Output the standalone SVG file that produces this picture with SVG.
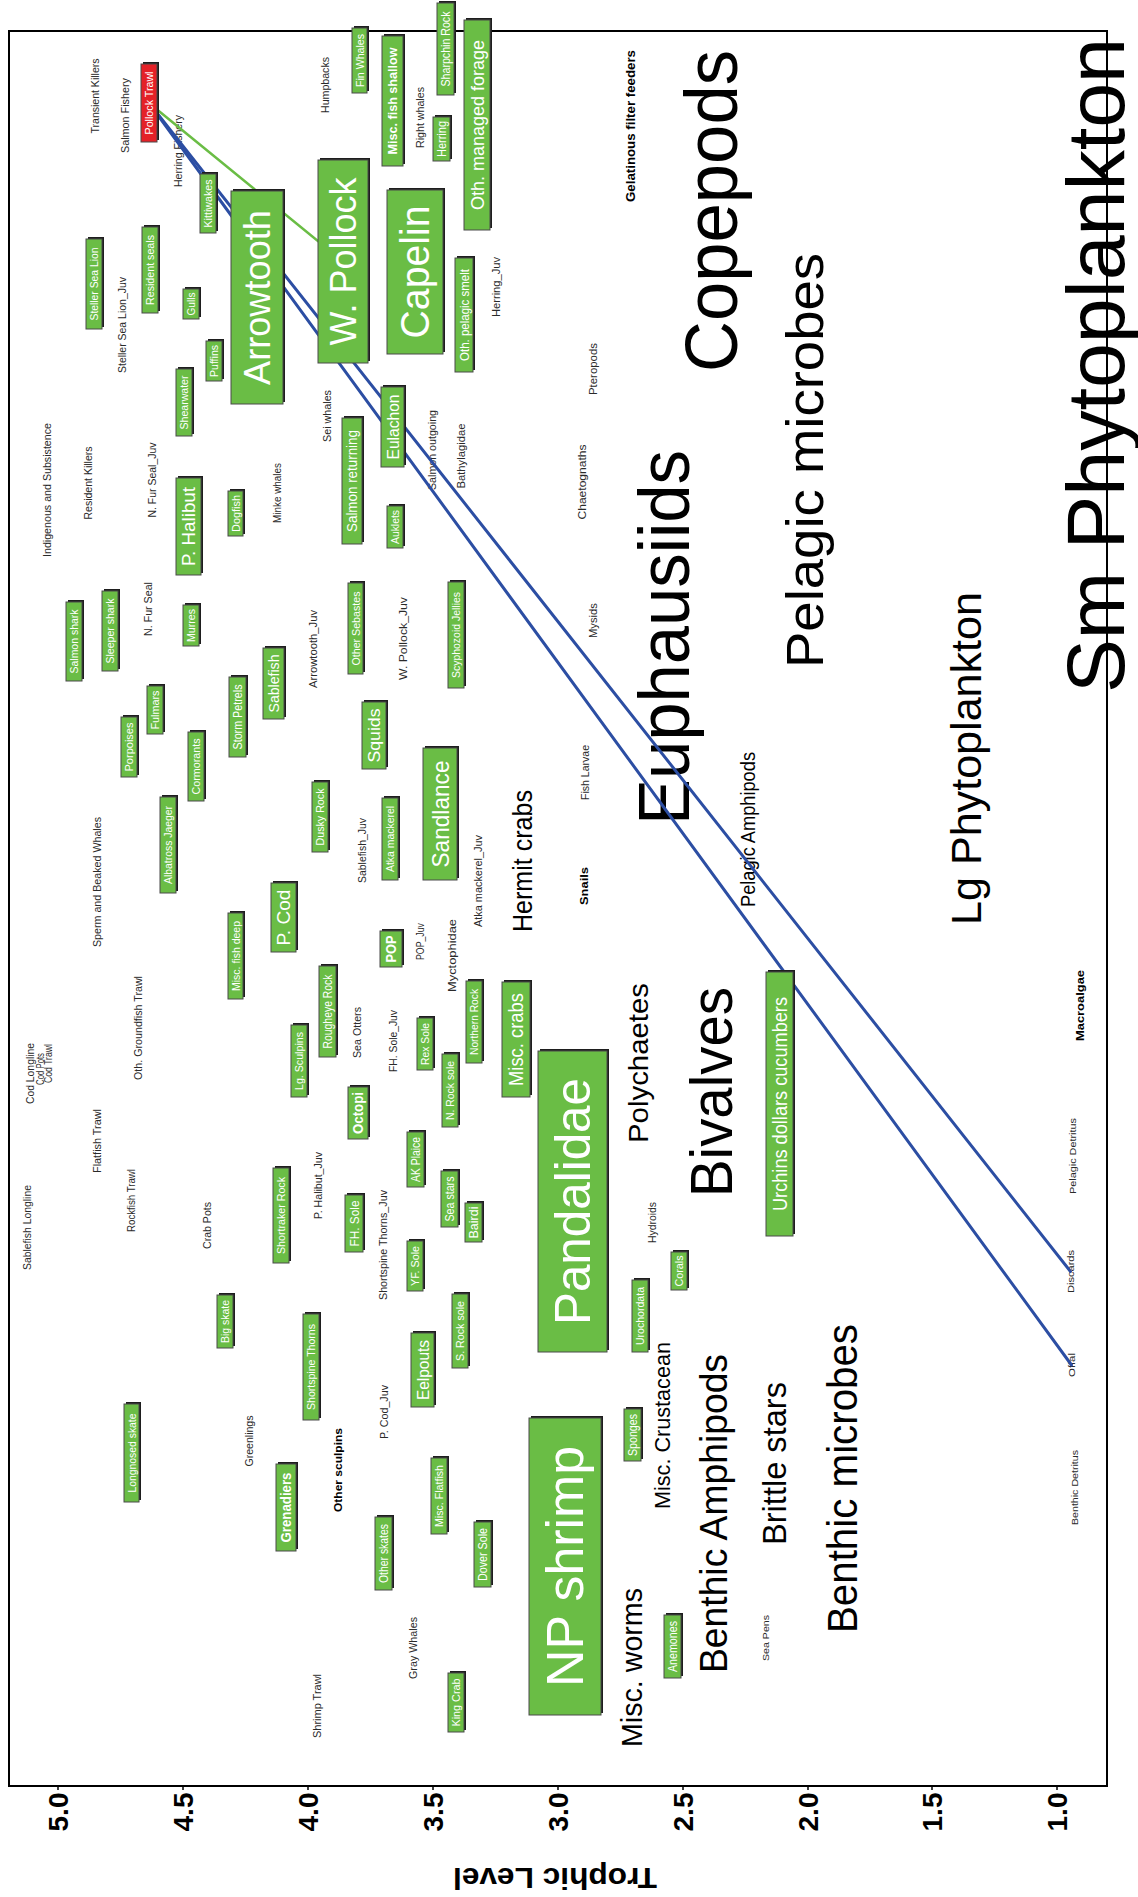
<svg xmlns="http://www.w3.org/2000/svg" width="1138" height="1897" viewBox="0 0 1138 1897">
<style>
text { font-family: "Liberation Sans", Arial, Helvetica, sans-serif; text-anchor: middle; dominant-baseline: central; }
.s { font-size: 10.5px; fill: #2a2a2a; }
.xs { font-size: 9.5px; fill: #2a2a2a; }
.bd { font-weight: bold; fill: #000; }
.big { fill: #000; }
.tick { font-size: 28px; font-weight: bold; fill: #000; }
.sh { fill: #1e1e1e; }
.bg { fill: #6abd45; stroke: #4a4a4a; stroke-width: 1; }
.red .bg { fill: #e42127; }
.nb text { fill: #fff; }
.link { fill: none; stroke-width: 3; stroke-linecap: round; }
.blue { stroke: #2c4ea3; }
.green { stroke: #6abd45; stroke-width: 2.5; }
</style>
<rect width="1138" height="1897" fill="#fff"/>

<!-- plot frame and trophic level axis -->
<g id="axis">
  <rect x="9" y="31" width="1098" height="1755" fill="none" stroke="#000" stroke-width="2"/>
  <g stroke="#000" stroke-width="1.5">
    <line x1="58" y1="1786" x2="58" y2="1790"/><line x1="183" y1="1786" x2="183" y2="1790"/>
    <line x1="308" y1="1786" x2="308" y2="1790"/><line x1="433" y1="1786" x2="433" y2="1790"/>
    <line x1="558" y1="1786" x2="558" y2="1790"/><line x1="683" y1="1786" x2="683" y2="1790"/>
    <line x1="808" y1="1786" x2="808" y2="1790"/><line x1="932" y1="1786" x2="932" y2="1790"/>
    <line x1="1057" y1="1786" x2="1057" y2="1790"/>
  </g>
  <text class="tick" transform="translate(58 1812) rotate(-90)">5.0</text>
  <text class="tick" transform="translate(183 1812) rotate(-90)">4.5</text>
  <text class="tick" transform="translate(308 1812) rotate(-90)">4.0</text>
  <text class="tick" transform="translate(433 1812) rotate(-90)">3.5</text>
  <text class="tick" transform="translate(558 1812) rotate(-90)">3.0</text>
  <text class="tick" transform="translate(683 1812) rotate(-90)">2.5</text>
  <text class="tick" transform="translate(808 1812) rotate(-90)">2.0</text>
  <text class="tick" transform="translate(932 1812) rotate(-90)">1.5</text>
  <text class="tick" transform="translate(1057 1812) rotate(-90)">1.0</text>
  <text class="bd" font-size="30" transform="translate(555 1878) rotate(180)" textLength="204" lengthAdjust="spacingAndGlyphs">Trophic Level</text>
</g>

<!-- groups without boxes: plain labels -->
<g id="labels">
  <g id="n-transient-killers"><text class="s" transform="translate(95 96) rotate(-90)" textLength="75" lengthAdjust="spacingAndGlyphs">Transient Killers</text></g>
  <g id="n-salmon-fishery"><text class="s" transform="translate(125 115.5) rotate(-90)" textLength="75" lengthAdjust="spacingAndGlyphs">Salmon Fishery</text></g>
  <g id="n-herring-fishery"><text class="s" transform="translate(178 151) rotate(-90)" textLength="72" lengthAdjust="spacingAndGlyphs">Herring Fishery</text></g>
  <g id="n-humpbacks"><text class="s" transform="translate(325 85) rotate(-90)" textLength="56" lengthAdjust="spacingAndGlyphs">Humpbacks</text></g>
  <g id="n-steller-juv"><text class="s" transform="translate(122 325) rotate(-90)" textLength="96" lengthAdjust="spacingAndGlyphs">Steller Sea Lion_Juv</text></g>
  <g id="n-sei-whales"><text class="s" transform="translate(327 416) rotate(-90)" textLength="52" lengthAdjust="spacingAndGlyphs">Sei whales</text></g>
  <g id="n-indigenous"><text class="s" transform="translate(47 490) rotate(-90)" textLength="134" lengthAdjust="spacingAndGlyphs">Indigenous and Subsistence</text></g>
  <g id="n-resident-killers"><text class="s" transform="translate(88 483) rotate(-90)" textLength="73" lengthAdjust="spacingAndGlyphs">Resident Killers</text></g>
  <g id="n-fur-seal-juv"><text class="s" transform="translate(152 480) rotate(-90)" textLength="75" lengthAdjust="spacingAndGlyphs">N. Fur Seal_Juv</text></g>
  <g id="n-minke"><text class="s" transform="translate(277 493) rotate(-90)" textLength="60" lengthAdjust="spacingAndGlyphs">Minke whales</text></g>
  <g id="n-fur-seal"><text class="s" transform="translate(147.5 609) rotate(-90)" textLength="54" lengthAdjust="spacingAndGlyphs">N. Fur Seal</text></g>
  <g id="n-arrowtooth-juv"><text class="s" transform="translate(312.5 649) rotate(-90)" textLength="78" lengthAdjust="spacingAndGlyphs">Arrowtooth_Juv</text></g>
  <g id="n-sperm-whales"><text class="s" transform="translate(97 882) rotate(-90)" textLength="130" lengthAdjust="spacingAndGlyphs">Sperm and Beaked Whales</text></g>
  <g id="n-sablefish-juv"><text class="s" transform="translate(361.5 850.5) rotate(-90)" textLength="65" lengthAdjust="spacingAndGlyphs">Sablefish_Juv</text></g>
  <g id="n-cod-longline"><text class="s" transform="translate(30 1073.5) rotate(-90)" textLength="61" lengthAdjust="spacingAndGlyphs">Cod Longline</text></g>
  <g id="n-cod-pots"><text class="s" transform="translate(39.5 1069) rotate(-90)" textLength="32" lengthAdjust="spacingAndGlyphs">Cod Pots</text></g>
  <g id="n-cod-trawl"><text class="s" transform="translate(48 1063.5) rotate(-90)" textLength="39" lengthAdjust="spacingAndGlyphs">Cod Trawl</text></g>
  <g id="n-oth-groundfish"><text class="s" transform="translate(137.5 1028) rotate(-90)" textLength="104" lengthAdjust="spacingAndGlyphs">Oth. Groundfish Trawl</text></g>
  <g id="n-flatfish-trawl"><text class="s" transform="translate(96.5 1141) rotate(-90)" textLength="64" lengthAdjust="spacingAndGlyphs">Flatfish Trawl</text></g>
  <g id="n-sablefish-longline"><text class="s" transform="translate(26.5 1227.5) rotate(-90)" textLength="85" lengthAdjust="spacingAndGlyphs">Sablefish Longline</text></g>
  <g id="n-rockfish-trawl"><text class="s" transform="translate(130.5 1200.5) rotate(-90)" textLength="63" lengthAdjust="spacingAndGlyphs">Rockfish Trawl</text></g>
  <g id="n-crab-pots"><text class="s" transform="translate(206.5 1225.5) rotate(-90)" textLength="47" lengthAdjust="spacingAndGlyphs">Crab Pots</text></g>
  <g id="n-sea-otters"><text class="s" transform="translate(356.5 1032.5) rotate(-90)" textLength="51" lengthAdjust="spacingAndGlyphs">Sea Otters</text></g>
  <g id="n-halibut-juv"><text class="s" transform="translate(317.5 1185.5) rotate(-90)" textLength="67" lengthAdjust="spacingAndGlyphs">P. Halibut_Juv</text></g>
  <g id="n-thorns-juv"><text class="s" transform="translate(383 1245) rotate(-90)" textLength="110" lengthAdjust="spacingAndGlyphs">Shortspine Thorns_Juv</text></g>
  <g id="n-cod-juv"><text class="s" transform="translate(384 1412) rotate(-90)" textLength="54" lengthAdjust="spacingAndGlyphs">P. Cod_Juv</text></g>
  <g id="n-greenlings"><text class="s" transform="translate(248.5 1441) rotate(-90)" textLength="51" lengthAdjust="spacingAndGlyphs">Greenlings</text></g>
  <g id="n-other-sculpins"><text class="bd" font-size="11.5" transform="translate(338 1470) rotate(-90)" textLength="84" lengthAdjust="spacingAndGlyphs">Other sculpins</text></g>
  <g id="n-shrimp-trawl"><text class="s" transform="translate(317 1706) rotate(-90)" textLength="64" lengthAdjust="spacingAndGlyphs">Shrimp Trawl</text></g>
  <g id="n-fh-sole-juv"><text class="s" transform="translate(392.5 1041) rotate(-90)" textLength="62" lengthAdjust="spacingAndGlyphs">FH. Sole_Juv</text></g>
  <g id="n-hydroids"><text class="s" transform="translate(651.5 1222.5) rotate(-90)" textLength="41" lengthAdjust="spacingAndGlyphs">Hydroids</text></g>
  <g id="n-pop-juv"><text class="s" transform="translate(420 941.5) rotate(-90)" textLength="37" lengthAdjust="spacingAndGlyphs">POP_Juv</text></g>
  <g id="n-myctophidae"><text class="s" transform="translate(452 955.5) rotate(-90)" textLength="73" lengthAdjust="spacingAndGlyphs">Myctophidae</text></g>
  <g id="n-atka-juv"><text class="s" transform="translate(477.5 881) rotate(-90)" textLength="92" lengthAdjust="spacingAndGlyphs">Atka mackerel_Juv</text></g>
  <g id="n-snails"><text class="bd" font-size="11.5" transform="translate(583.5 886) rotate(-90)" textLength="38" lengthAdjust="spacingAndGlyphs">Snails</text></g>
  <g id="n-fish-larvae"><text class="s" transform="translate(585 772.5) rotate(-90)" textLength="55" lengthAdjust="spacingAndGlyphs">Fish Larvae</text></g>
  <g id="n-mysids"><text class="s" transform="translate(592.5 620.5) rotate(-90)" textLength="35" lengthAdjust="spacingAndGlyphs">Mysids</text></g>
  <g id="n-pollock-juv"><text class="s" transform="translate(403 638.5) rotate(-90)" textLength="83" lengthAdjust="spacingAndGlyphs">W. Pollock_Juv</text></g>
  <g id="n-chaetognaths"><text class="s" transform="translate(582 482) rotate(-90)" textLength="75" lengthAdjust="spacingAndGlyphs">Chaetognaths</text></g>
  <g id="n-bathylagidae"><text class="s" transform="translate(461 456) rotate(-90)" textLength="65" lengthAdjust="spacingAndGlyphs">Bathylagidae</text></g>
  <g id="n-salmon-outgoing"><text class="s" transform="translate(432 450) rotate(-90)" textLength="80" lengthAdjust="spacingAndGlyphs">Salmon outgoing</text></g>
  <g id="n-right-whales"><text class="s" transform="translate(420 117.5) rotate(-90)" textLength="61" lengthAdjust="spacingAndGlyphs">Right whales</text></g>
  <g id="n-gelatinous"><text class="bd" font-size="12.5" transform="translate(631 126) rotate(-90)" textLength="152" lengthAdjust="spacingAndGlyphs">Gelatinous filter feeders</text></g>
  <g id="n-herring-juv"><text class="s" transform="translate(495.5 287) rotate(-90)" textLength="60" lengthAdjust="spacingAndGlyphs">Herring_Juv</text></g>
  <g id="n-pteropods"><text class="s" transform="translate(593 369) rotate(-90)" textLength="52" lengthAdjust="spacingAndGlyphs">Pteropods</text></g>
  <g id="n-macroalgae"><text class="bd" font-size="11.5" transform="translate(1080 1005.5) rotate(-90)" textLength="71" lengthAdjust="spacingAndGlyphs">Macroalgae</text></g>
  <g id="n-pelagic-detritus"><text class="xs" transform="translate(1072 1156) rotate(-90)" textLength="76" lengthAdjust="spacingAndGlyphs">Pelagic Detritus</text></g>
  <g id="n-discards"><text class="xs" transform="translate(1070.5 1271.5) rotate(-90)" textLength="43" lengthAdjust="spacingAndGlyphs">Discards</text></g>
  <g id="n-offal"><text class="xs" transform="translate(1071.5 1365) rotate(-90)" textLength="24" lengthAdjust="spacingAndGlyphs">Offal</text></g>
  <g id="n-gray-whales"><text class="s" transform="translate(412.5 1648) rotate(-90)" textLength="62" lengthAdjust="spacingAndGlyphs">Gray Whales</text></g>
  <g id="n-sea-pens"><text class="xs" transform="translate(765 1638) rotate(-90)" textLength="46" lengthAdjust="spacingAndGlyphs">Sea Pens</text></g>
  <g id="n-benthic-detritus"><text class="xs" transform="translate(1074.5 1487.5) rotate(-90)" textLength="75" lengthAdjust="spacingAndGlyphs">Benthic Detritus</text></g>

  <!-- large biomass groups -->
  <g id="n-sm-phyto"><text class="big" font-size="82" transform="translate(1095.5 365.5) rotate(-90)" textLength="655" lengthAdjust="spacingAndGlyphs">Sm Phytoplankton</text></g>
  <g id="n-copepods"><text class="big" font-size="74" transform="translate(711.5 211) rotate(-90)" textLength="322" lengthAdjust="spacingAndGlyphs">Copepods</text></g>
  <g id="n-pelagic-microbes"><text class="big" font-size="52" transform="translate(805 460.5) rotate(-90)" textLength="415" lengthAdjust="spacingAndGlyphs">Pelagic microbes</text></g>
  <g id="n-euphausiids"><text class="big" font-size="72" transform="translate(664 637.5) rotate(-90)" textLength="375" lengthAdjust="spacingAndGlyphs">Euphausiids</text></g>
  <g id="n-lg-phyto"><text class="big" font-size="42" transform="translate(966 758.5) rotate(-90)" textLength="333" lengthAdjust="spacingAndGlyphs">Lg Phytoplankton</text></g>
  <g id="n-pelagic-amphipods"><text class="big" font-size="20" transform="translate(748 829.5) rotate(-90)" textLength="155" lengthAdjust="spacingAndGlyphs">Pelagic Amphipods</text></g>
  <g id="n-hermit-crabs"><text class="big" font-size="27" transform="translate(523 861) rotate(-90)" textLength="142" lengthAdjust="spacingAndGlyphs">Hermit crabs</text></g>
  <g id="n-polychaetes"><text class="big" font-size="28" transform="translate(638 1063) rotate(-90)" textLength="160" lengthAdjust="spacingAndGlyphs">Polychaetes</text></g>
  <g id="n-bivalves"><text class="big" font-size="60" transform="translate(711.5 1092) rotate(-90)" textLength="210" lengthAdjust="spacingAndGlyphs">Bivalves</text></g>
  <g id="n-misc-worms"><text class="big" font-size="29" transform="translate(632 1667.5) rotate(-90)" textLength="159" lengthAdjust="spacingAndGlyphs">Misc. worms</text></g>
  <g id="n-misc-crustacean"><text class="big" font-size="22" transform="translate(662 1425.5) rotate(-90)" textLength="167" lengthAdjust="spacingAndGlyphs">Misc. Crustacean</text></g>
  <g id="n-benthic-amphipods"><text class="big" font-size="38" transform="translate(713.5 1513.5) rotate(-90)" textLength="319" lengthAdjust="spacingAndGlyphs">Benthic Amphipods</text></g>
  <g id="n-brittle-stars"><text class="big" font-size="34" transform="translate(773.5 1463.5) rotate(-90)" textLength="163" lengthAdjust="spacingAndGlyphs">Brittle stars</text></g>
  <g id="n-benthic-microbes"><text class="big" font-size="43" transform="translate(842 1478.5) rotate(-90)" textLength="309" lengthAdjust="spacingAndGlyphs">Benthic microbes</text></g>
</g>

<!-- flows out of the pollock trawl fishery -->
<g id="connectors">
  <line class="link green" x1="149" y1="103" x2="343" y2="261.5"/>
  <line class="link blue" x1="149" y1="103" x2="1070.5" y2="1271.5"/>
  <line class="link blue" x1="149" y1="103" x2="1071.5" y2="1365"/>
</g>

<!-- boxed groups -->
<g id="boxes" class="nb">
  <g id="n-fin-whales"><rect class="sh" x="354" y="26" width="15" height="65"/><rect class="bg" x="352" y="28" width="15" height="65"/><text font-size="10.8" transform="translate(359.5 60.5) rotate(-90)" textLength="53" lengthAdjust="spacingAndGlyphs">Fin Whales</text></g>
  <g id="n-pollock-trawl" class="red"><rect class="sh" x="143" y="62" width="16" height="78"/><rect class="bg" x="141" y="64" width="16" height="78"/><text font-size="11.5" transform="translate(149 103) rotate(-90)" textLength="63" lengthAdjust="spacingAndGlyphs">Pollock Trawl</text></g>
  <g id="n-kittiwakes"><rect class="sh" x="202" y="172" width="16" height="59"/><rect class="bg" x="200" y="174" width="16" height="59"/><text font-size="11.5" transform="translate(208 203.5) rotate(-90)" textLength="48" lengthAdjust="spacingAndGlyphs">Kittiwakes</text></g>
  <g id="n-arrowtooth"><rect class="sh" x="233" y="189" width="52" height="213"/><rect class="bg" x="231" y="191" width="52" height="213"/><text font-size="37.5" transform="translate(257 297.5) rotate(-90)" textLength="175" lengthAdjust="spacingAndGlyphs">Arrowtooth</text></g>
  <g id="n-w-pollock"><rect class="sh" x="320" y="158" width="50" height="203"/><rect class="bg" x="318" y="160" width="50" height="203"/><text font-size="36" transform="translate(343 261.5) rotate(-90)" textLength="168" lengthAdjust="spacingAndGlyphs">W. Pollock</text></g>
  <g id="n-steller"><rect class="sh" x="88" y="237" width="16" height="90"/><rect class="bg" x="86" y="239" width="16" height="90"/><text font-size="11.5" transform="translate(94 284) rotate(-90)" textLength="73" lengthAdjust="spacingAndGlyphs">Steller Sea Lion</text></g>
  <g id="n-resident-seals"><rect class="sh" x="144" y="225" width="16" height="86"/><rect class="bg" x="142" y="227" width="16" height="86"/><text font-size="11.5" transform="translate(150 270) rotate(-90)" textLength="70" lengthAdjust="spacingAndGlyphs">Resident seals</text></g>
  <g id="n-gulls"><rect class="sh" x="185" y="287" width="16" height="30"/><rect class="bg" x="183" y="289" width="16" height="30"/><text font-size="11.5" transform="translate(191 304) rotate(-90)" textLength="23" lengthAdjust="spacingAndGlyphs">Gulls</text></g>
  <g id="n-puffins"><rect class="sh" x="208" y="339" width="16" height="40"/><rect class="bg" x="206" y="341" width="16" height="40"/><text font-size="11.5" transform="translate(214 361) rotate(-90)" textLength="32" lengthAdjust="spacingAndGlyphs">Puffins</text></g>
  <g id="n-shearwater"><rect class="sh" x="178" y="367" width="16" height="67"/><rect class="bg" x="176" y="369" width="16" height="67"/><text font-size="11.5" transform="translate(184 402.5) rotate(-90)" textLength="54" lengthAdjust="spacingAndGlyphs">Shearwater</text></g>
  <g id="n-salmon-returning"><rect class="sh" x="344" y="416" width="20" height="126"/><rect class="bg" x="342" y="418" width="20" height="126"/><text font-size="14" transform="translate(352 481) rotate(-90)" textLength="102" lengthAdjust="spacingAndGlyphs">Salmon returning</text></g>
  <g id="n-p-halibut"><rect class="sh" x="178" y="476" width="25" height="97"/><rect class="bg" x="176" y="478" width="25" height="97"/><text font-size="18" transform="translate(188.5 526.5) rotate(-90)" textLength="79" lengthAdjust="spacingAndGlyphs">P. Halibut</text></g>
  <g id="n-dogfish"><rect class="sh" x="230" y="489" width="15" height="45"/><rect class="bg" x="228" y="491" width="15" height="45"/><text font-size="10.8" transform="translate(235.5 513.5) rotate(-90)" textLength="37" lengthAdjust="spacingAndGlyphs">Dogfish</text></g>
  <g id="n-salmon-shark"><rect class="sh" x="68" y="600" width="16" height="79"/><rect class="bg" x="66" y="602" width="16" height="79"/><text font-size="11.5" transform="translate(74 641.5) rotate(-90)" textLength="64" lengthAdjust="spacingAndGlyphs">Salmon shark</text></g>
  <g id="n-sleeper-shark"><rect class="sh" x="104" y="589" width="16" height="80"/><rect class="bg" x="102" y="591" width="16" height="80"/><text font-size="11.5" transform="translate(110 631) rotate(-90)" textLength="65" lengthAdjust="spacingAndGlyphs">Sleeper shark</text></g>
  <g id="n-murres"><rect class="sh" x="185" y="603" width="16" height="41"/><rect class="bg" x="183" y="605" width="16" height="41"/><text font-size="11.5" transform="translate(191 625.5) rotate(-90)" textLength="33" lengthAdjust="spacingAndGlyphs">Murres</text></g>
  <g id="n-other-sebastes"><rect class="sh" x="350" y="581" width="15" height="91"/><rect class="bg" x="348" y="583" width="15" height="91"/><text font-size="10.8" transform="translate(355.5 628.5) rotate(-90)" textLength="74" lengthAdjust="spacingAndGlyphs">Other Sebastes</text></g>
  <g id="n-porpoises"><rect class="sh" x="123" y="715" width="16" height="60"/><rect class="bg" x="121" y="717" width="16" height="60"/><text font-size="11.5" transform="translate(129 747) rotate(-90)" textLength="49" lengthAdjust="spacingAndGlyphs">Porpoises</text></g>
  <g id="n-fulmars"><rect class="sh" x="149" y="684" width="16" height="48"/><rect class="bg" x="147" y="686" width="16" height="48"/><text font-size="11.5" transform="translate(155 710) rotate(-90)" textLength="39" lengthAdjust="spacingAndGlyphs">Fulmars</text></g>
  <g id="n-cormorants"><rect class="sh" x="190" y="730" width="16" height="69"/><rect class="bg" x="188" y="732" width="16" height="69"/><text font-size="11.5" transform="translate(196 766.5) rotate(-90)" textLength="56" lengthAdjust="spacingAndGlyphs">Cormorants</text></g>
  <g id="n-storm-petrels"><rect class="sh" x="231" y="675" width="17" height="80"/><rect class="bg" x="229" y="677" width="17" height="80"/><text font-size="12" transform="translate(237.5 717) rotate(-90)" textLength="65" lengthAdjust="spacingAndGlyphs">Storm Petrels</text></g>
  <g id="n-sablefish"><rect class="sh" x="265" y="646" width="21" height="71"/><rect class="bg" x="263" y="648" width="21" height="71"/><text font-size="15" transform="translate(273.5 683.5) rotate(-90)" textLength="58" lengthAdjust="spacingAndGlyphs">Sablefish</text></g>
  <g id="n-squids"><rect class="sh" x="364" y="700" width="24" height="67"/><rect class="bg" x="362" y="702" width="24" height="67"/><text font-size="17" transform="translate(374 735.5) rotate(-90)" textLength="54" lengthAdjust="spacingAndGlyphs">Squids</text></g>
  <g id="n-albatross"><rect class="sh" x="162" y="795" width="16" height="96"/><rect class="bg" x="160" y="797" width="16" height="96"/><text font-size="11.5" transform="translate(168 845) rotate(-90)" textLength="78" lengthAdjust="spacingAndGlyphs">Albatross Jaeger</text></g>
  <g id="n-dusky-rock"><rect class="sh" x="314" y="780" width="16" height="70"/><rect class="bg" x="312" y="782" width="16" height="70"/><text font-size="11.5" transform="translate(320 817) rotate(-90)" textLength="57" lengthAdjust="spacingAndGlyphs">Dusky Rock</text></g>
  <g id="n-p-cod"><rect class="sh" x="273" y="881" width="25" height="69"/><rect class="bg" x="271" y="883" width="25" height="69"/><text font-size="18" transform="translate(283.5 917.5) rotate(-90)" textLength="56" lengthAdjust="spacingAndGlyphs">P. Cod</text></g>
  <g id="n-misc-fish-deep"><rect class="sh" x="230" y="911" width="15" height="86"/><rect class="bg" x="228" y="913" width="15" height="86"/><text font-size="10.8" transform="translate(235.5 956) rotate(-90)" textLength="70" lengthAdjust="spacingAndGlyphs">Misc. fish deep</text></g>
  <g id="n-lg-sculpins"><rect class="sh" x="293" y="1023" width="16" height="72"/><rect class="bg" x="291" y="1025" width="16" height="72"/><text font-size="11.5" transform="translate(299 1061) rotate(-90)" textLength="58" lengthAdjust="spacingAndGlyphs">Lg. Sculpins</text></g>
  <g id="n-rougheye"><rect class="sh" x="321" y="964" width="17" height="91"/><rect class="bg" x="319" y="966" width="17" height="91"/><text font-size="12" transform="translate(327.5 1011.5) rotate(-90)" textLength="74" lengthAdjust="spacingAndGlyphs">Rougheye Rock</text></g>
  <g id="n-octopi"><rect class="sh" x="350" y="1085" width="20" height="52"/><rect class="bg" x="348" y="1087" width="20" height="52"/><text font-size="14" font-weight="bold" transform="translate(358 1113) rotate(-90)" textLength="42" lengthAdjust="spacingAndGlyphs">Octopi</text></g>
  <g id="n-shortraker"><rect class="sh" x="275" y="1166" width="16" height="95"/><rect class="bg" x="273" y="1168" width="16" height="95"/><text font-size="11.5" transform="translate(281 1215.5) rotate(-90)" textLength="77" lengthAdjust="spacingAndGlyphs">Shortraker Rock</text></g>
  <g id="n-fh-sole"><rect class="sh" x="347" y="1193" width="18" height="57"/><rect class="bg" x="345" y="1195" width="18" height="57"/><text font-size="13" transform="translate(354 1223.5) rotate(-90)" textLength="46" lengthAdjust="spacingAndGlyphs">FH. Sole</text></g>
  <g id="n-big-skate"><rect class="sh" x="219" y="1293" width="16" height="53"/><rect class="bg" x="217" y="1295" width="16" height="53"/><text font-size="11.5" transform="translate(225 1321.5) rotate(-90)" textLength="43" lengthAdjust="spacingAndGlyphs">Big skate</text></g>
  <g id="n-shortspine"><rect class="sh" x="305" y="1312" width="16" height="106"/><rect class="bg" x="303" y="1314" width="16" height="106"/><text font-size="11.5" transform="translate(311 1367) rotate(-90)" textLength="86" lengthAdjust="spacingAndGlyphs">Shortspine Thorns</text></g>
  <g id="n-longnosed-skate"><rect class="sh" x="126" y="1402" width="15" height="98"/><rect class="bg" x="124" y="1404" width="15" height="98"/><text font-size="10.8" transform="translate(131.5 1453) rotate(-90)" textLength="79" lengthAdjust="spacingAndGlyphs">Longnosed skate</text></g>
  <g id="n-grenadiers"><rect class="sh" x="278" y="1462" width="20" height="87"/><rect class="bg" x="276" y="1464" width="20" height="87"/><text font-size="14" font-weight="bold" transform="translate(286 1507.5) rotate(-90)" textLength="70" lengthAdjust="spacingAndGlyphs">Grenadiers</text></g>
  <g id="n-other-skates"><rect class="sh" x="377" y="1515" width="17" height="73"/><rect class="bg" x="375" y="1517" width="17" height="73"/><text font-size="12" transform="translate(383.5 1553.5) rotate(-90)" textLength="59" lengthAdjust="spacingAndGlyphs">Other skates</text></g>
  <g id="n-rex-sole"><rect class="sh" x="419" y="1016" width="16" height="52"/><rect class="bg" x="417" y="1018" width="16" height="52"/><text font-size="11.5" transform="translate(425 1044) rotate(-90)" textLength="42" lengthAdjust="spacingAndGlyphs">Rex Sole</text></g>
  <g id="n-northern-rock"><rect class="sh" x="468" y="979" width="16" height="82"/><rect class="bg" x="466" y="981" width="16" height="82"/><text font-size="11.5" transform="translate(474 1022) rotate(-90)" textLength="66" lengthAdjust="spacingAndGlyphs">Northern Rock</text></g>
  <g id="n-misc-crabs"><rect class="sh" x="504" y="980" width="28" height="115"/><rect class="bg" x="502" y="982" width="28" height="115"/><text font-size="20" transform="translate(516 1039.5) rotate(-90)" textLength="93" lengthAdjust="spacingAndGlyphs">Misc. crabs</text></g>
  <g id="n-n-rock-sole"><rect class="sh" x="444" y="1052" width="16" height="73"/><rect class="bg" x="442" y="1054" width="16" height="73"/><text font-size="11.5" transform="translate(450 1090.5) rotate(-90)" textLength="59" lengthAdjust="spacingAndGlyphs">N. Rock sole</text></g>
  <g id="n-ak-plaice"><rect class="sh" x="409" y="1130" width="17" height="55"/><rect class="bg" x="407" y="1132" width="17" height="55"/><text font-size="12" transform="translate(415.5 1159.5) rotate(-90)" textLength="45" lengthAdjust="spacingAndGlyphs">AK Plaice</text></g>
  <g id="n-sea-stars"><rect class="sh" x="443" y="1169" width="17" height="56"/><rect class="bg" x="441" y="1171" width="17" height="56"/><text font-size="12" transform="translate(449.5 1199) rotate(-90)" textLength="45" lengthAdjust="spacingAndGlyphs">Sea stars</text></g>
  <g id="n-bairdi"><rect class="sh" x="467" y="1201" width="17" height="39"/><rect class="bg" x="465" y="1203" width="17" height="39"/><text font-size="12" transform="translate(473.5 1222.5) rotate(-90)" textLength="32" lengthAdjust="spacingAndGlyphs">Bairdi</text></g>
  <g id="n-yf-sole"><rect class="sh" x="409" y="1239" width="16" height="50"/><rect class="bg" x="407" y="1241" width="16" height="50"/><text font-size="11.5" transform="translate(415 1266) rotate(-90)" textLength="40" lengthAdjust="spacingAndGlyphs">YF. Sole</text></g>
  <g id="n-s-rock-sole"><rect class="sh" x="454" y="1292" width="16" height="74"/><rect class="bg" x="452" y="1294" width="16" height="74"/><text font-size="11.5" transform="translate(460 1331) rotate(-90)" textLength="60" lengthAdjust="spacingAndGlyphs">S. Rock sole</text></g>
  <g id="n-eelpouts"><rect class="sh" x="413" y="1331" width="23" height="74"/><rect class="bg" x="411" y="1333" width="23" height="74"/><text font-size="16.5" transform="translate(422.5 1370) rotate(-90)" textLength="60" lengthAdjust="spacingAndGlyphs">Eelpouts</text></g>
  <g id="n-pandalidae"><rect class="sh" x="540" y="1049" width="69" height="301"/><rect class="bg" x="538" y="1051" width="69" height="301"/><text font-size="50" transform="translate(572.5 1201.5) rotate(-90)" textLength="247" lengthAdjust="spacingAndGlyphs">Pandalidae</text></g>
  <g id="n-corals"><rect class="sh" x="673" y="1250" width="16" height="38"/><rect class="bg" x="671" y="1252" width="16" height="38"/><text font-size="11.5" transform="translate(679 1271) rotate(-90)" textLength="31" lengthAdjust="spacingAndGlyphs">Corals</text></g>
  <g id="n-urochordata"><rect class="sh" x="634" y="1278" width="16" height="72"/><rect class="bg" x="632" y="1280" width="16" height="72"/><text font-size="11.5" transform="translate(640 1316) rotate(-90)" textLength="58" lengthAdjust="spacingAndGlyphs">Urochordata</text></g>
  <g id="n-pop"><rect class="sh" x="382" y="929" width="22" height="36"/><rect class="bg" x="380" y="931" width="22" height="36"/><text font-size="14" font-weight="bold" transform="translate(391 949) rotate(-90)" textLength="27" lengthAdjust="spacingAndGlyphs">POP</text></g>
  <g id="n-sandlance"><rect class="sh" x="425" y="746" width="34" height="132"/><rect class="bg" x="423" y="748" width="34" height="132"/><text font-size="24.5" transform="translate(440 814) rotate(-90)" textLength="107" lengthAdjust="spacingAndGlyphs">Sandlance</text></g>
  <g id="n-atka"><rect class="sh" x="384" y="796" width="16" height="82"/><rect class="bg" x="382" y="798" width="16" height="82"/><text font-size="11.5" transform="translate(390 839) rotate(-90)" textLength="66" lengthAdjust="spacingAndGlyphs">Atka mackerel</text></g>
  <g id="n-scyphozoid"><rect class="sh" x="450" y="580" width="16" height="106"/><rect class="bg" x="448" y="582" width="16" height="106"/><text font-size="11.5" transform="translate(456 635) rotate(-90)" textLength="86" lengthAdjust="spacingAndGlyphs">Scyphozoid Jellies</text></g>
  <g id="n-auklets"><rect class="sh" x="389" y="504" width="16" height="42"/><rect class="bg" x="387" y="506" width="16" height="42"/><text font-size="11.5" transform="translate(395 527) rotate(-90)" textLength="34" lengthAdjust="spacingAndGlyphs">Auklets</text></g>
  <g id="n-eulachon"><rect class="sh" x="383" y="385" width="23" height="80"/><rect class="bg" x="381" y="387" width="23" height="80"/><text font-size="16.5" transform="translate(392.5 427) rotate(-90)" textLength="65" lengthAdjust="spacingAndGlyphs">Eulachon</text></g>
  <g id="n-misc-fish-shallow"><rect class="sh" x="384" y="34" width="21" height="130"/><rect class="bg" x="382" y="36" width="21" height="130"/><text font-size="13" font-weight="bold" transform="translate(392.5 101) rotate(-90)" textLength="107" lengthAdjust="spacingAndGlyphs">Misc. fish shallow</text></g>
  <g id="n-herring"><rect class="sh" x="435" y="115" width="17" height="44"/><rect class="bg" x="433" y="117" width="17" height="44"/><text font-size="12" transform="translate(441.5 139) rotate(-90)" textLength="36" lengthAdjust="spacingAndGlyphs">Herring</text></g>
  <g id="n-sharpchin"><rect class="sh" x="439" y="1" width="17" height="92"/><rect class="bg" x="437" y="3" width="17" height="92"/><text font-size="12" transform="translate(445.5 49) rotate(-90)" textLength="75" lengthAdjust="spacingAndGlyphs">Sharpchin Rock</text></g>
  <g id="n-oth-managed-forage"><rect class="sh" x="466" y="18" width="26" height="210"/><rect class="bg" x="464" y="20" width="26" height="210"/><text font-size="19" transform="translate(477 125) rotate(-90)" textLength="170" lengthAdjust="spacingAndGlyphs">Oth. managed forage</text></g>
  <g id="n-capelin"><rect class="sh" x="389" y="188" width="56" height="164"/><rect class="bg" x="387" y="190" width="56" height="164"/><text font-size="40" transform="translate(415 272) rotate(-90)" textLength="133" lengthAdjust="spacingAndGlyphs">Capelin</text></g>
  <g id="n-oth-pelagic-smelt"><rect class="sh" x="457" y="256" width="18" height="114"/><rect class="bg" x="455" y="258" width="18" height="114"/><text font-size="13" transform="translate(464 315) rotate(-90)" textLength="92" lengthAdjust="spacingAndGlyphs">Oth. pelagic smelt</text></g>
  <g id="n-urchins"><rect class="sh" x="768" y="970" width="27" height="264"/><rect class="bg" x="766" y="972" width="27" height="264"/><text font-size="19.5" transform="translate(779.5 1104) rotate(-90)" textLength="214" lengthAdjust="spacingAndGlyphs">Urchins dollars cucumbers</text></g>
  <g id="n-np-shrimp"><rect class="sh" x="531" y="1416" width="72" height="297"/><rect class="bg" x="529" y="1418" width="72" height="297"/><text font-size="52" transform="translate(565 1566.5) rotate(-90)" textLength="241" lengthAdjust="spacingAndGlyphs">NP shrimp</text></g>
  <g id="n-anemones"><rect class="sh" x="666" y="1613" width="17" height="63"/><rect class="bg" x="664" y="1615" width="17" height="63"/><text font-size="12" transform="translate(672.5 1646.5) rotate(-90)" textLength="51" lengthAdjust="spacingAndGlyphs">Anemones</text></g>
  <g id="n-sponges"><rect class="sh" x="626" y="1407" width="17" height="52"/><rect class="bg" x="624" y="1409" width="17" height="52"/><text font-size="12" transform="translate(632.5 1435) rotate(-90)" textLength="42" lengthAdjust="spacingAndGlyphs">Sponges</text></g>
  <g id="n-king-crab"><rect class="sh" x="450" y="1671" width="16" height="59"/><rect class="bg" x="448" y="1673" width="16" height="59"/><text font-size="11.5" transform="translate(456 1702.5) rotate(-90)" textLength="48" lengthAdjust="spacingAndGlyphs">King Crab</text></g>
  <g id="n-misc-flatfish"><rect class="sh" x="433" y="1456" width="16" height="76"/><rect class="bg" x="431" y="1458" width="16" height="76"/><text font-size="11.5" transform="translate(439 1496) rotate(-90)" textLength="62" lengthAdjust="spacingAndGlyphs">Misc. Flatfish</text></g>
  <g id="n-dover-sole"><rect class="sh" x="476" y="1520" width="17" height="65"/><rect class="bg" x="474" y="1522" width="17" height="65"/><text font-size="12" transform="translate(482.5 1554.5) rotate(-90)" textLength="53" lengthAdjust="spacingAndGlyphs">Dover Sole</text></g>
</g>
</svg>
